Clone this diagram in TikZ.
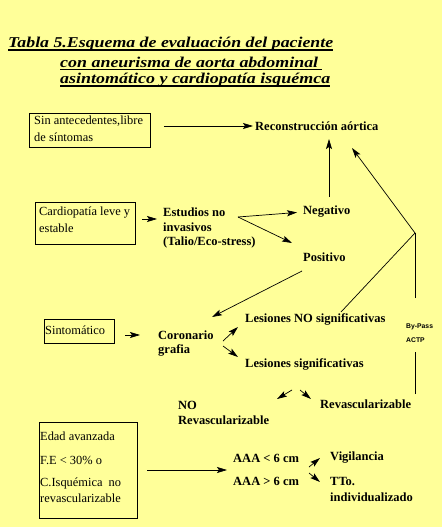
\documentclass[tikz,border=0pt]{standalone}
\usepackage{fontspec}
\newfontfamily\tms{Liberation Serif}
\newfontfamily\ari{Liberation Sans}
\usetikzlibrary{arrows.meta,calc}
\definecolor{bg}{RGB}{255,255,153}
\begin{document}
\begin{tikzpicture}[x=1pt,y=-1pt,
  ttl/.style={anchor=west, inner sep=0, font=\tms\fontsize{15}{18}\selectfont\bfseries\itshape},
  bl/.style={anchor=west, inner sep=0, font=\tms\fontsize{12.5}{14}\selectfont\bfseries},
  pl/.style={anchor=west, inner sep=0, font=\tms\fontsize{12.4}{14}\selectfont},
  sm/.style={anchor=west, inner sep=0, font=\ari\fontsize{6.8}{8}\selectfont\bfseries},
  boxn/.style={draw, line width=0.8pt, anchor=north west, inner sep=0},
  arr/.style={-{Stealth[length=10pt,width=6pt,inset=2pt]}, line width=0.7pt},
  ln/.style={line width=0.7pt},
  uln/.style={line width=1.4pt}]
\fill[bg] (0,0) rectangle (442,527);
\useasboundingbox (0,0) rectangle (442,527);

% title
\node[ttl] (t1) at (8,44) {\resizebox{325pt}{\height}{Tabla 5.Esquema de evaluación del paciente}};
\node[ttl] (t2) at (60,62) {\resizebox{258pt}{\height}{con aneurisma de aorta abdominal}};
\node[ttl] (t3) at (60,80) {\resizebox{270pt}{\height}{asintomático y cardiopatía isquémca}};
\draw[uln] ($(t1.base west)+(0,2.5)$) -- ($(t1.base east)+(0,2.5)$);
\draw[uln] ($(t2.base west)+(0,2.5)$) -- ($(t2.base east)+(4,2.5)$);
\draw[uln] ($(t3.base west)+(0,2.5)$) -- ($(t3.base east)+(0,2.5)$);

% boxes
\node[boxn, minimum width=121pt, minimum height=34pt] (b1) at (29,113) {};
\node[boxn, minimum width=100pt, minimum height=42pt] (b2) at (35,202) {};
\node[boxn, minimum width=70pt, minimum height=24pt] (b3) at (44,319) {};
\node[boxn, minimum width=98pt, minimum height=96pt] (b4) at (39,422) {};

\node[pl] (s1a) at (34,121) {Sin antecedentes,libre};
\node[pl] (s1b) at (34,137) {de síntomas};
\node[pl] (s2a) at (39,213) {Cardiopatía leve y};
\node[pl] (s2b) at (39,228) {estable};
\node[pl] (s3) at (45,330) {Sintomático};
\node[pl] (s4a) at (40,436) {Edad avanzada};
\node[pl] (s4b) at (40,460) {F.E < 30\% o};
\node[pl] (s4c) at (40,484) {C.Isquémica\ \ no};
\node[pl] (s4d) at (40,498) {revascularizable};

% bold labels
\node[bl] (recon) at (255,126) {Reconstrucción aórtica};
\node[bl] (est1) at (163,212) {Estudios no};
\node[bl] (est2) at (163,227) {invasivos};
\node[bl] (est3) at (163,242) {(Talio/Eco-stress)};
\node[bl] (neg) at (303,212) {Negativo};
\node[bl] (pos) at (303,257) {Positivo};
\node[bl] (cor1) at (158,335) {Coronario};
\node[bl] (cor2) at (158,350) {grafia};
\node[bl] (lno) at (245,319) {Lesiones NO significativas};
\node[bl] (lsi) at (245,364) {Lesiones significativas};
\node[bl] (nor1) at (178,405) {NO};
\node[bl] (nor2) at (178,420) {Revascularizable};
\node[bl] (rev) at (320,404) {Revascularizable};
\node[bl] (aaa1) at (233,458) {AAA < 6 cm};
\node[bl] (aaa2) at (233,481) {AAA > 6 cm};
\node[bl] (vig) at (330,458) {Vigilancia};
\node[bl] (tto1) at (330,481) {TTo.};
\node[bl] (tto2) at (330,497) {individualizado};
\node[sm] (bp1) at (406,327) {By-Pass};
\node[sm] (bp2) at (406,340) {ACTP};

% connector end points
\coordinate (c2s) at (142,219);
\coordinate (c2e) at (157,219);
\coordinate (e1) at (238,217);
\coordinate (p1) at (292,243);
\coordinate (n1) at (329,197);
\coordinate (n2) at (329,139);
\coordinate (ps1) at (302,271);
\coordinate (ps2) at (212,317);
\coordinate (c3s) at (125,335);
\coordinate (c3e) at (140,335);
\coordinate (k1) at (223,341);
\coordinate (k2) at (238,327);
\coordinate (k3) at (223,346);
\coordinate (k4) at (238,357);
\coordinate (lq) at (341,312);
\coordinate (junc) at (415,233);
\coordinate (rt) at (352,148);
\coordinate (vb) at (415,394);
\coordinate (vm1) at (415,352);
\coordinate (vm2) at (415,298);
\coordinate (r1) at (292,390);
\coordinate (r2) at (277,399);
\coordinate (r3) at (300,390);
\coordinate (r4) at (311,399);
\coordinate (a4s) at (147,470);
\coordinate (a4e) at (227,470);
\coordinate (v1) at (309,467);
\coordinate (v2) at (320,458);
\coordinate (v3) at (309,473);
\coordinate (v4) at (320,482);

% connectors
\draw[arr, shorten <=13pt, shorten >=2pt] (b1.east |- recon.west) -- (recon.west);
\draw[arr] (c2s) -- (c2e);
\draw[arr, shorten >=6pt] (e1) -- (neg.west);
\draw[arr] (e1) -- (p1);
\draw[arr] (n1) -- (n2);
\draw[arr] (ps1) -- (ps2);
\draw[arr] (c3s) -- (c3e);
\draw[arr] (k1) -- (k2);
\draw[arr] (k3) -- (k4);
\draw[ln] (lq) -- (junc);
\draw[arr] (junc) -- (rt);
\draw[ln] (vb) -- (vm1);
\draw[ln] (vm2) -- (junc);
\draw[arr] (r1) -- (r2);
\draw[arr] (r3) -- (r4);
\draw[arr] (a4s) -- (a4e);
\draw[arr] (v1) -- (v2);
\draw[arr] (v3) -- (v4);
\end{tikzpicture}
\end{document}
